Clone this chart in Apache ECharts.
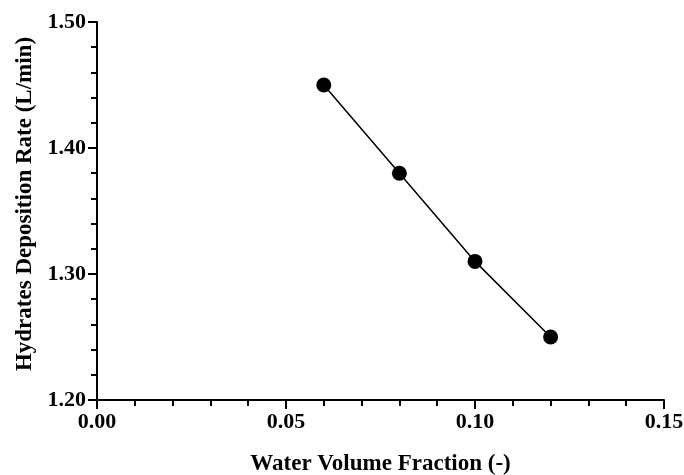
<!DOCTYPE html>
<html>
<head>
<meta charset="utf-8">
<script src="https://cdn.jsdelivr.net/npm/echarts@6/dist/echarts.min.js"></script>
<style>
  html, body { margin: 0; padding: 0; background: #fff; }
  #chart { width: 684px; height: 475px; }
</style>
</head>
<body>
<div id="chart"></div>
<script>
// Water volume fraction (-) and the measured hydrate deposition rate (L/min)
const waterFraction = [0.06, 0.08, 0.10, 0.12];
const depositionRate = [1.45, 1.38, 1.31, 1.25];

const xTicks = { min: 0, max: 0.15, step: 0.05 };
const yTicks = { min: 1.2, max: 1.5, step: 0.1 };

const serif = '"Liberation Serif", "Times New Roman", serif';

const chart = echarts.init(document.getElementById('chart'), null, { renderer: 'canvas' });

const axisCommon = {
  axisLine: { show: true, onZero: false, lineStyle: { color: '#000', width: 2 } },
  axisTick: { show: true, inside: false, length: 9, lineStyle: { color: '#000', width: 2 } },
  minorTick: { show: true, splitNumber: 5, length: 6, lineStyle: { color: '#000', width: 2 } },
  splitLine: { show: false },
  minorSplitLine: { show: false },
  nameLocation: 'middle'
};

const titleStyle = { fontFamily: serif, fontWeight: 'bold', fontSize: 23, color: '#000' };
const tickLabel = {
  margin: 11,
  fontFamily: serif, fontWeight: 'bold', fontSize: 22, color: '#000',
  formatter: v => v.toFixed(2)
};

chart.setOption({
  backgroundColor: '#fff',
  animation: false,
  grid: { left: 97, right: 20, top: 22, bottom: 75, containLabel: false, outerBoundsMode: 'none' },
  xAxis: Object.assign({}, axisCommon, {
    type: 'value',
    min: xTicks.min,
    max: xTicks.max,
    interval: xTicks.step,
    name: 'Water Volume Fraction (-)',
    nameGap: 53,
    nameTextStyle: titleStyle,
    axisLabel: tickLabel
  }),
  yAxis: Object.assign({}, axisCommon, {
    type: 'value',
    min: yTicks.min,
    max: yTicks.max,
    interval: yTicks.step,
    name: 'Hydrates Deposition Rate (L/min)',
    nameGap: 59,
    nameTextStyle: Object.assign({}, titleStyle, { padding: [0, 0, 0, 14] }),
    axisLabel: tickLabel
  }),
  series: [{
    type: 'line',
    data: waterFraction.map((x, i) => [x, depositionRate[i]]),
    symbol: 'circle',
    symbolSize: 15,
    lineStyle: { color: '#000', width: 1.5 },
    itemStyle: { color: '#000' }
  }]
});
</script>
</body>
</html>
